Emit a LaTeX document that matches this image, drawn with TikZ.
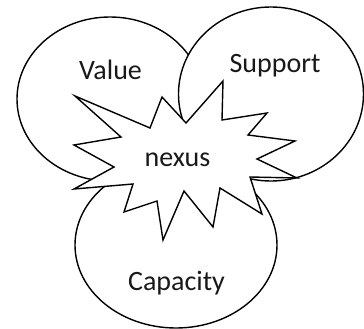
\documentclass[tikz,border=0pt]{standalone}
\usepackage{fontspec}
\setmainfont{Carlito}
\begin{document}
\begin{tikzpicture}[x=1pt,y=-1pt,
  blob/.style={draw=black,fill=white,line width=1.4pt},
  lbl/.style={anchor=base,inner sep=0pt,font=\fontsize{28}{34}\selectfont,text=black!90}]
\useasboundingbox (0,0) rectangle (364,329);
% circles
\draw[blob] (110,99) ellipse [x radius=93pt, y radius=82pt];
\draw[blob] (176,245) ellipse [x radius=101pt, y radius=83pt];
\draw[blob] (271,94) ellipse [x radius=92.5pt, y radius=87pt];
% star
\draw[blob,line join=miter] (75,96) -- (150,128) -- (162,97) -- (186,123) -- (223,81) -- (222,120)
  -- (267,113) -- (248,135) -- (295,141) -- (257,159) -- (297,178) -- (250,177)
  -- (262,214) -- (220,188) -- (213,227) -- (184,191) -- (163,240) -- (157,201)
  -- (124,212) -- (133,184) -- (74,189) -- (114,167) -- (74,145) -- (121,137) -- cycle;
% labels
\node[lbl] (value) at (110.5,80) {Value};
\node[lbl] (support) at (275,73) {Support};
\node[lbl] (nexus) at (177.5,166) {nexus};
\node[lbl] (capacity) at (176.5,290) {Capacity};
\end{tikzpicture}
\end{document}
